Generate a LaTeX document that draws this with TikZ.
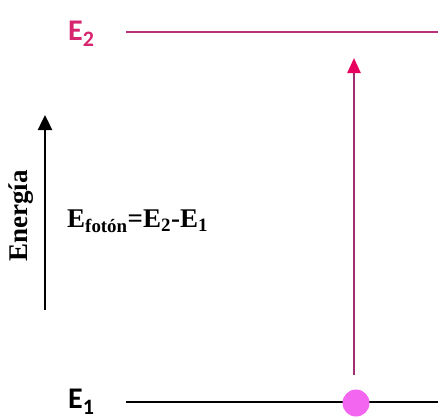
\documentclass[tikz,border=0pt]{standalone}
\usepackage{fontspec}
\setmainfont{Liberation Serif}
\newfontfamily\lvlfont{Carlito}
\usepackage{xcolor}
\definecolor{lvlpink}{HTML}{D6246E}
\definecolor{lvlline}{HTML}{B8307A}
\definecolor{photonhead}{HTML}{E8005E}
\definecolor{photonline}{HTML}{A0306E}
\definecolor{electron}{HTML}{F266F0}
\usetikzlibrary{arrows.meta,positioning}
\newcommand{\lvlsub}[1]{\raisebox{-6pt}{\fontsize{22}{22}\selectfont #1}}
\tikzset{
  lvllabel/.style={font=\lvlfont\bfseries\fontsize{30}{32}\selectfont, inner sep=0pt},
  lvl/.style={line width=2.4pt},
  ar/.style={-{Triangle[length=15pt,width=14pt]}, line width=2.4pt},
  txt/.style={font=\bfseries\fontsize{27}{30}\selectfont, inner sep=0pt},
}
\begin{document}
\begin{tikzpicture}[x=1pt,y=-1pt]
  \useasboundingbox (0,0) rectangle (438,418);
  % energy levels
  \node[lvllabel, text=lvlpink, anchor=base west] (e2) at (68,40) {E\lvlsub{2}};
  \node[lvllabel, anchor=base west] (e1) at (68,408) {E\lvlsub{1}};
  \coordinate (e2a) at (126,32);
  \coordinate (e2b) at (438,32);
  \coordinate (e1a) at (126,402);
  \coordinate (e1b) at (438,402);
  \draw[lvl, lvlline] (e2a) -- (e2b);
  \draw[lvl, black] (e1a) -- (e1b);
  % electron and photon
  \node[circle, fill=electron, minimum size=27pt, inner sep=0pt] (el) at (356,403) {};
  \coordinate (ph0) at (354,375);
  \coordinate (ph) at (354,58);
  \draw[ar, photonline, -{Triangle[length=15pt,width=13pt,fill=photonhead,color=photonhead]}] (ph0) -- (ph);
  % energy axis
  \coordinate (ea) at (45,310);
  \coordinate (eb) at (45,115);
  \draw[ar, black] (ea) -- (eb);
  \node[txt, rotate=90] (en) at (21,216) {Energía};
  \node[txt, anchor=west] (form) at (67,221) {E\textsubscript{fotón}=E\textsubscript{2}-E\textsubscript{1}};
\end{tikzpicture}
\end{document}
